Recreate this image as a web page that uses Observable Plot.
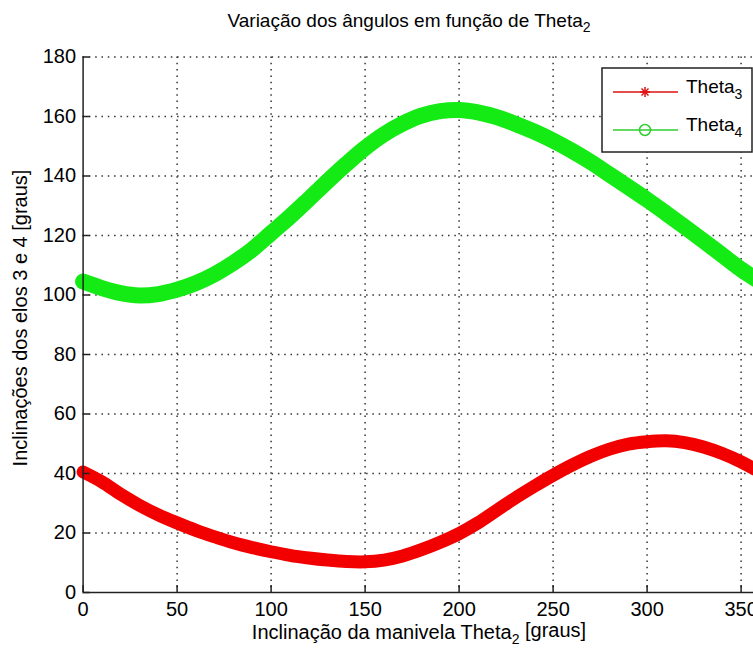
<!DOCTYPE html>
<html><head><meta charset="utf-8">
<script src="https://cdn.jsdelivr.net/npm/d3@7"></script>
<script src="https://cdn.jsdelivr.net/npm/@observablehq/plot@0.6"></script>
<style>html,body{margin:0;padding:0;background:#fff;overflow:hidden;}</style>
</head><body><div id="chart"></div>
<script>
// Crank angle (Theta2, degrees)
const theta2 = [0,10,20,30,40,50,60,70,80,90,100,110,120,130,140,150,160,170,180,190,200,210,220,230,240,250,260,270,280,290,300,310,320,330,340,350,360];
// Link 3 angle (Theta3)
const theta3 = [40.5,37.2,33.0,29.3,26.1,23.4,20.9,18.7,16.7,15.1,13.7,12.5,11.6,10.9,10.4,10.3,10.9,12.3,14.4,16.9,19.8,23.4,27.6,31.8,35.7,39.4,42.8,45.8,48.2,49.9,50.7,51.0,50.4,48.9,46.7,43.9,40.5];
// Link 4 angle (Theta4)
const theta4 = [104.5,102.3,100.6,99.8,100.3,101.8,104.0,107.0,110.8,115.3,120.8,126.3,132.2,138.2,144.0,149.4,154.0,157.6,160.3,161.8,162.2,161.4,159.8,157.5,154.9,151.9,148.5,144.7,140.5,136.3,132.0,127.5,122.9,118.2,113.4,108.6,104.5];

const xTicks = [0,50,100,150,200,250,300,350];
const yTicks = [0,20,40,60,80,100,120,140,160,180];
const xGrid = [50,100,150,200,250,300,350];
const yGrid = [20,40,60,80,100,120,140,160,180];

const seriesNames = ["Theta", "Theta"];
const seriesSubs = ["3", "4"];
const titleMain = "Variação dos ângulos em função de Theta";
const titleSub = "2";
const xLabelA = "Inclinação da manivela Theta";
const xLabelSub = "2";
const xLabelB = " [graus]";
const yLabel = "Inclinações dos elos 3 e 4 [graus]";

const RED = "#f20000", GREEN = "#14ea14";
const data3 = theta2.map((t, i) => ({t, v: theta3[i]}));
const data4 = theta2.map((t, i) => ({t, v: theta4[i]}));
const FONT = "'Liberation Sans', Arial, Helvetica, sans-serif";
const gridStyle = {stroke: "#333", strokeWidth: 1.5, strokeDasharray: "1.5,4.8"};

const plot = Plot.plot({
  width: 753, height: 648,
  marginTop: 56.5, marginBottom: 56, marginLeft: 82.6, marginRight: 0,
  x: {domain: [0, 360], range: [82.6, 759.4]},
  y: {domain: [0, 180], range: [592, 56.5]},
  style: {fontFamily: FONT, fontSize: "20px", background: "#fff", color: "#000", overflow: "hidden"},
  marks: [
    Plot.ruleX(xGrid, gridStyle),
    Plot.ruleY(yGrid, gridStyle),
    Plot.line(data4, {x: "t", y: "v", stroke: GREEN, strokeWidth: 16, curve: "catmull-rom", strokeLinecap: "round"}),
    Plot.line(data3, {x: "t", y: "v", stroke: RED, strokeWidth: 13, curve: "catmull-rom", strokeLinecap: "round"}),
    Plot.ruleX([0], {stroke: "#222", strokeWidth: 1.5}),
    Plot.ruleY([0], {stroke: "#222", strokeWidth: 1.5}),
    Plot.axisX(xTicks, {anchor: "bottom", tickSize: -7, tickPadding: 16, label: null, stroke: "#222", strokeWidth: 1.5}),
    Plot.axisY(yTicks, {anchor: "left", tickSize: -7, tickPadding: 14, label: null, stroke: "#222", strokeWidth: 1.5})
  ]
});
document.getElementById("chart").appendChild(plot);

const svg = d3.select(plot);
// Title
const tt = svg.append("text").attr("x", 409).attr("y", 27).attr("text-anchor", "middle")
  .attr("font-family", FONT).attr("font-size", 19).attr("fill", "#000");
tt.append("tspan").text(titleMain);
tt.append("tspan").attr("dy", "0.35em").attr("font-size", 14).text(titleSub);
// X label
const xl = svg.append("text").attr("x", 419).attr("y", 639).attr("text-anchor", "middle")
  .attr("font-family", FONT).attr("font-size", 20).attr("fill", "#000");
xl.append("tspan").text(xLabelA);
xl.append("tspan").attr("dy", "0.35em").attr("font-size", 14).text(xLabelSub);
xl.append("tspan").attr("dy", "-0.35em").text(xLabelB);
// Y label
svg.append("text").attr("transform", "translate(27,318) rotate(-90)").attr("text-anchor", "middle")
  .attr("font-family", FONT).attr("font-size", 20).attr("fill", "#000").text(yLabel);

// Legend
const lg = svg.append("g").attr("text-anchor", "start");
lg.append("rect").attr("x", 602).attr("y", 68).attr("width", 150).attr("height", 84)
  .attr("fill", "#fff").attr("stroke", "#222").attr("stroke-width", 1.5);
const rows = [92, 130];
const colors = ["#dd1010", "#2fcf2f"];
rows.forEach((ry, i) => {
  lg.append("line").attr("x1", 613).attr("x2", 678).attr("y1", ry).attr("y2", ry)
    .attr("stroke", colors[i]).attr("stroke-width", 1.5);
  if (i === 0) {
    const s = 5;
    [[0, 1], [1, 0], [0.7, 0.7], [0.7, -0.7]].forEach(([dx, dy]) => {
      lg.append("line").attr("x1", 645 - dx * s).attr("x2", 645 + dx * s)
        .attr("y1", ry - dy * s).attr("y2", ry + dy * s).attr("stroke", colors[i]).attr("stroke-width", 1.5);
    });
  } else {
    lg.append("circle").attr("cx", 645).attr("cy", ry).attr("r", 5.5)
      .attr("fill", "none").attr("stroke", colors[i]).attr("stroke-width", 1.5);
  }
  const tx = lg.append("text").attr("x", 686).attr("y", ry + 1).attr("text-anchor", "start")
    .attr("font-family", FONT).attr("font-size", 19).attr("fill", "#000");
  tx.append("tspan").text(seriesNames[i]);
  tx.append("tspan").attr("dy", "0.4em").attr("font-size", 14).text(seriesSubs[i]);
});
</script>
</body></html>
